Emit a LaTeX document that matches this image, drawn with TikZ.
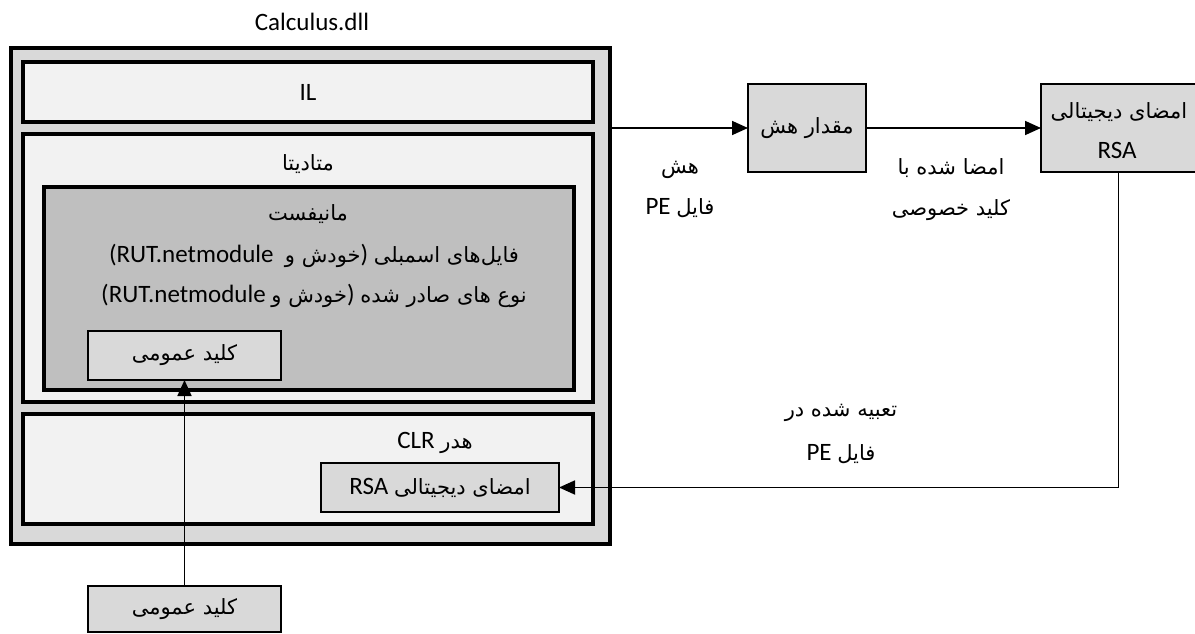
\documentclass[tikz,border=0pt]{standalone}
\usepackage{fontspec}
\setmainfont{Carlito}
\newfontfamily\arfont[Script=Arabic]{DejaVu Sans}
\TeXXeTstate=1
\usetikzlibrary{arrows.meta}
\definecolor{shellgray}{HTML}{D9D9D9}
\definecolor{panelgray}{HTML}{F2F2F2}
\definecolor{coregray}{HTML}{BFBFBF}
% Persian words, set right to left
\newcommand{\fa}[1]{{\arfont\fontsize{21}{24}\selectfont\beginR #1\endR}}

\begin{document}
\begin{tikzpicture}[x=1pt,y=-1pt,
  every node/.style={font=\fontsize{25}{29}\selectfont, inner sep=0pt, outer sep=0pt},
  frame/.style={draw=black, line width=4pt, rectangle},
  tile/.style={draw=black, line width=2pt, rectangle, fill=shellgray},
  conn/.style={draw=black, line width=1.8pt, -{Triangle[length=16pt,width=14pt]}}]
\useasboundingbox (0,0) rectangle (1195,634);
\fill[white] (0,0) rectangle (1195,634);

% assembly file and its sections
\node (title) at (312,22) {Calculus.dll};
\node[frame, fill=shellgray, minimum width=599pt, minimum height=496pt] (outer) at (310.5,296) {};
\node[frame, fill=panelgray, minimum width=570pt, minimum height=60pt] (il) at (308,92) {IL};
\node[frame, fill=panelgray, minimum width=570pt, minimum height=268pt] (meta) at (308,268) {};
\node (metalbl) at (308,164) {\fa{متادیتا}};
\node[frame, fill=coregray, minimum width=530pt, minimum height=203pt] (manifest) at (309,288.5) {};
\node (manlbl) at (308,214) {\fa{مانیفست}};
\node (files) at (314,256) {(RUT.netmodule\ \ \fa{خودش و})\ \fa{فایل‌های اسمبلی}};
\node (types) at (314,296) {(RUT.netmodule\ \fa{خودش و})\ \fa{نوع های صادر شده}};
\node[tile, minimum width=193pt, minimum height=49pt] (pubin) at (184.5,355.5) {\fa{کلید عمومی}};
\node[frame, fill=panelgray, minimum width=570pt, minimum height=110pt] (clr) at (308,469) {};
\node (clrlbl) at (435,443) {CLR\ \fa{هدر}};
\node[tile, minimum width=238pt, minimum height=49pt] (rsasig) at (440,487.5) {RSA\ \fa{امضای دیجیتالی}};

% external key and signing chain
\node[tile, minimum width=193pt, minimum height=46pt] (pubout) at (184.5,609) {\fa{کلید عمومی}};
\node[tile, minimum width=118pt, minimum height=87pt] (hash) at (807,128) {\fa{مقدار هش}};
\node[tile, minimum width=155pt, minimum height=87pt] (rsa) at (1118.5,128) {};
\node (rsalbla) at (1119,112) {\fa{امضای دیجیتالی}};
\node (rsalblb) at (1117,150) {RSA};

% edge labels
\node (hasha) at (680,170) {\fa{هش}};
\node (hashb) at (680,208) {PE\ \fa{فایل}};
\node (signa) at (951,168) {\fa{امضا شده با}};
\node (signb) at (951,210) {\fa{کلید خصوصی}};
\node (embeda) at (841,413) {\fa{تعبیه شده در}};
\node (embedb) at (841,454) {PE\ \fa{فایل}};

% connectors
\draw[conn] (outer.east |- hash.west) -- (hash.west);
\draw[conn] (hash.east) -- (rsa.west);
\draw[conn] (rsa.south) |- (rsasig.east);
\draw[conn] (pubout.north) -- (pubin.south);
\end{tikzpicture}
\end{document}
